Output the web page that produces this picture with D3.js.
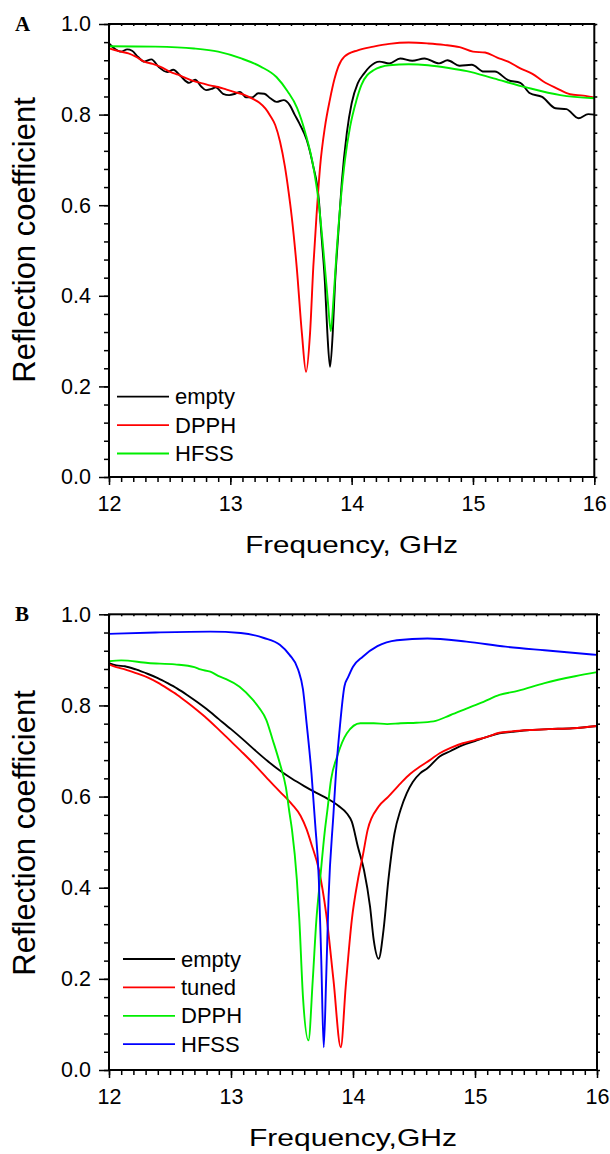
<!DOCTYPE html>
<html>
<head>
<meta charset="utf-8">
<script src="https://cdn.jsdelivr.net/npm/d3@7"></script>
<style>
  body { margin: 0; background: #fff; }
  svg { display: block; }
  text { font-family: "Liberation Sans", Arial, sans-serif; fill: #000; }
</style>
</head>
<body>
<svg id="chart"></svg>
<script>
// ---- data (frequency GHz, reflection coefficient) ----
const xTicks = [12, 13, 14, 15, 16]
const yTicks = [0, 0.2, 0.4, 0.6, 0.8, 1.0]

// panel A
const emptyA = [[12.00,0.957],[12.05,0.945],[12.10,0.939],[12.15,0.944],[12.19,0.941],[12.24,0.927],[12.29,0.917],[12.35,0.922],[12.41,0.905],[12.48,0.894],[12.53,0.899],[12.59,0.885],[12.66,0.870],[12.71,0.877],[12.76,0.862],[12.80,0.854],[12.85,0.857],[12.88,0.860],[12.94,0.846],[12.99,0.843],[13.04,0.846],[13.08,0.850],[13.13,0.838],[13.18,0.838],[13.23,0.847],[13.28,0.846],[13.33,0.836],[13.38,0.828],[13.44,0.832],[13.49,0.821],[13.53,0.800],[13.57,0.780],[13.63,0.744],[13.68,0.690],[13.73,0.611],[13.75,0.538],[13.78,0.428],[13.80,0.317],[13.822,0.243],[13.844,0.317],[13.863,0.428],[13.89,0.538],[13.918,0.648],[13.96,0.759],[14.00,0.825],[14.05,0.869],[14.10,0.890],[14.15,0.906],[14.23,0.917],[14.31,0.913],[14.40,0.924],[14.50,0.919],[14.60,0.924],[14.72,0.913],[14.79,0.920],[14.89,0.908],[14.99,0.910],[15.09,0.895],[15.18,0.895],[15.29,0.876],[15.39,0.870],[15.47,0.847],[15.57,0.839],[15.68,0.814],[15.77,0.812],[15.87,0.792],[15.95,0.801],[16.00,0.800]]
const dpphA = [[12.00,0.946],[12.08,0.940],[12.16,0.935],[12.22,0.928],[12.29,0.917],[12.36,0.912],[12.42,0.906],[12.51,0.894],[12.57,0.888],[12.64,0.880],[12.70,0.874],[12.77,0.869],[12.84,0.864],[12.90,0.861],[12.97,0.855],[13.03,0.850],[13.12,0.843],[13.19,0.834],[13.24,0.826],[13.29,0.813],[13.33,0.797],[13.37,0.777],[13.41,0.740],[13.45,0.685],[13.48,0.630],[13.506,0.575],[13.547,0.464],[13.59,0.317],[13.624,0.232],[13.657,0.317],[13.684,0.464],[13.71,0.575],[13.74,0.685],[13.78,0.773],[13.82,0.832],[13.86,0.880],[13.89,0.906],[13.94,0.928],[14.05,0.942],[14.18,0.950],[14.31,0.956],[14.47,0.959],[14.63,0.957],[14.76,0.954],[14.89,0.949],[15.00,0.939],[15.10,0.937],[15.20,0.926],[15.29,0.917],[15.39,0.902],[15.49,0.890],[15.58,0.873],[15.69,0.858],[15.80,0.845],[15.91,0.842],[16.00,0.838]]
const hfssA = [[12.00,0.951],[12.38,0.950],[12.70,0.946],[12.90,0.939],[13.09,0.924],[13.25,0.906],[13.38,0.883],[13.47,0.852],[13.55,0.815],[13.62,0.758],[13.684,0.685],[13.726,0.611],[13.767,0.501],[13.803,0.391],[13.828,0.322],[13.85,0.391],[13.877,0.501],[13.91,0.611],[13.945,0.700],[13.987,0.773],[14.04,0.832],[14.08,0.865],[14.18,0.898],[14.31,0.909],[14.47,0.911],[14.63,0.909],[14.80,0.903],[14.95,0.896],[15.17,0.880],[15.44,0.860],[15.72,0.843],[16.00,0.836]]

// panel B
const emptyB = [[12.00,0.893],[12.06,0.888],[12.13,0.886],[12.22,0.879],[12.32,0.869],[12.40,0.860],[12.48,0.849],[12.56,0.837],[12.64,0.823],[12.72,0.808],[12.80,0.792],[12.90,0.770],[13.00,0.748],[13.10,0.725],[13.20,0.701],[13.30,0.678],[13.40,0.657],[13.50,0.639],[13.60,0.623],[13.70,0.608],[13.80,0.594],[13.88,0.580],[13.95,0.563],[13.99,0.545],[14.04,0.490],[14.09,0.439],[14.14,0.358],[14.17,0.285],[14.21,0.244],[14.25,0.307],[14.29,0.417],[14.34,0.519],[14.39,0.571],[14.44,0.607],[14.49,0.632],[14.55,0.651],[14.61,0.662],[14.71,0.688],[14.80,0.700],[14.90,0.713],[15.00,0.722],[15.10,0.731],[15.20,0.739],[15.30,0.742],[15.45,0.746],[15.60,0.748],[15.80,0.750],[16.00,0.755]]
const tunedB = [[12.00,0.890],[12.06,0.884],[12.13,0.879],[12.22,0.871],[12.32,0.861],[12.40,0.850],[12.48,0.837],[12.56,0.823],[12.64,0.807],[12.72,0.790],[12.80,0.772],[12.90,0.747],[13.00,0.721],[13.10,0.695],[13.20,0.668],[13.30,0.639],[13.40,0.611],[13.50,0.583],[13.57,0.558],[13.62,0.528],[13.66,0.495],[13.72,0.440],[13.78,0.343],[13.84,0.197],[13.90,0.050],[13.94,0.182],[13.99,0.329],[14.04,0.417],[14.08,0.470],[14.12,0.527],[14.21,0.578],[14.29,0.600],[14.39,0.629],[14.47,0.650],[14.55,0.666],[14.63,0.680],[14.71,0.695],[14.80,0.707],[14.90,0.717],[15.00,0.724],[15.10,0.731],[15.20,0.740],[15.30,0.743],[15.45,0.746],[15.60,0.748],[15.80,0.750],[16.00,0.755]]
const dpphB = [[12.00,0.897],[12.10,0.899],[12.32,0.893],[12.54,0.890],[12.70,0.884],[12.75,0.879],[12.83,0.874],[12.91,0.863],[12.96,0.858],[13.07,0.841],[13.18,0.812],[13.23,0.795],[13.29,0.768],[13.34,0.726],[13.40,0.673],[13.45,0.620],[13.48,0.563],[13.50,0.527],[13.54,0.417],[13.56,0.330],[13.59,0.160],[13.635,0.065],[13.67,0.197],[13.70,0.330],[13.73,0.417],[13.77,0.527],[13.79,0.570],[13.82,0.637],[13.87,0.688],[13.95,0.739],[14.06,0.761],[14.17,0.761],[14.28,0.759],[14.39,0.761],[14.52,0.762],[14.66,0.765],[14.80,0.779],[14.93,0.793],[15.07,0.808],[15.20,0.823],[15.35,0.832],[15.57,0.849],[15.82,0.864],[16.00,0.873]]
const hfssB = [[12.00,0.957],[12.38,0.960],[12.83,0.962],[13.08,0.959],[13.27,0.948],[13.40,0.933],[13.48,0.911],[13.55,0.879],[13.59,0.835],[13.62,0.760],[13.66,0.650],[13.69,0.540],[13.72,0.417],[13.74,0.240],[13.76,0.050],[13.78,0.200],[13.80,0.380],[13.84,0.563],[13.86,0.650],[13.89,0.746],[13.93,0.842],[13.96,0.862],[14.00,0.885],[14.08,0.907],[14.20,0.930],[14.36,0.943],[14.61,0.947],[14.93,0.940],[15.25,0.929],[15.57,0.921],[16.00,0.911]]

const namesA = ["empty", "DPPH", "HFSS"]
const namesB = ["empty", "tuned", "DPPH", "HFSS"]

const svg = d3.select('#chart')
    .attr('width', 610)
    .attr('height', 1154)

const panels = [
    { letter: "A", left: 109, right: 594.3, top: 24, bottom: 477,
      series: [emptyA, dpphA, hfssA], names: namesA,
      colors: ["#000000", "#ff0000", "#00ee00"],
      xTitle: "Frequency, GHz", xTitleLen: 213, legendY: 396.7 },
    { letter: "B", left: 109, right: 597, top: 614.3, bottom: 1070,
      series: [emptyB, tunedB, dpphB, hfssB], names: namesB,
      colors: ["#000000", "#ff0000", "#00ee00", "#0000ff"],
      xTitle: "Frequency,GHz", xTitleLen: 208, legendY: 959 }
]

panels.forEach(p => {
    const g = svg.append("g")
    const x = d3.scaleLinear().domain([12, 16]).range([p.left, p.right])
    const y = d3.scaleLinear().domain([0, 1]).range([p.bottom, p.top])

    // curves
    const line = d3.line()
        .x(d => x(d[0]))
        .y(d => y(d[1]))
        .curve(d3.curveMonotoneX)

    p.series.forEach((s, i) => {
        g.append("path")
            .datum(s)
            .attr("d", line)
            .attr("fill", "none")
            .attr("stroke", p.colors[i])
            .attr("stroke-width", 1.9)
            .attr("stroke-linejoin", "round")
    })

    // minor ticks
    const xMinor = d3.range(12, 16.001, 0.1)
    const yMinor = d3.range(0, 1.001, 0.04)

    g.append("g")
        .attr("transform", `translate(0,${p.bottom})`)
        .call(d3.axisBottom(x).tickValues(xMinor).tickSize(5).tickFormat(""))
        .call(a => a.select(".domain").remove())
    g.append("g")
        .attr("transform", `translate(${p.left},0)`)
        .call(d3.axisLeft(y).tickValues(yMinor).tickSize(5).tickFormat(""))
        .call(a => a.select(".domain").remove())
    // mirrored ticks on right / top
    g.append("g")
        .attr("transform", `translate(${p.right},0)`)
        .call(d3.axisRight(y).tickValues(yMinor).tickSize(3).tickFormat(""))
        .call(a => a.select(".domain").remove())
    g.append("g")
        .attr("transform", `translate(0,${p.top})`)
        .call(d3.axisBottom(x).tickValues(xMinor).tickSize(2).tickFormat(""))
        .call(a => a.select(".domain").remove())

    // major ticks + labels
    const xAxis = g.append("g")
        .attr("transform", `translate(0,${p.bottom})`)
        .call(d3.axisBottom(x).tickValues(xTicks).tickSize(8).tickPadding(11).tickFormat(d3.format("d")))
    xAxis.select(".domain").remove()

    const yAxis = g.append("g")
        .attr("transform", `translate(${p.left},0)`)
        .call(d3.axisLeft(y).tickValues(yTicks).tickSize(10).tickPadding(8).tickFormat(d3.format(".1f")))
    yAxis.select(".domain").remove()

    g.selectAll(".tick line").attr("stroke", "#000").attr("stroke-width", 1.5)
    g.selectAll(".tick text")
        .style("font-family", '"Liberation Sans", Arial, sans-serif')
        .style("font-size", "21.5px")
        .attr("fill", "#000")

    // frame
    g.append("rect")
        .attr("x", p.left)
        .attr("y", p.top)
        .attr("width", p.right - p.left)
        .attr("height", p.bottom - p.top)
        .attr("fill", "none")
        .attr("stroke", "#000")
        .attr("stroke-width", 2)

    // axis titles
    g.append("text")
        .attr("x", (p.left + p.right) / 2 - p.xTitleLen / 2)
        .attr("y", p.bottom + 76)
        .attr("textLength", p.xTitleLen)
        .attr("lengthAdjust", "spacingAndGlyphs")
        .style("font-size", "24px")
        .text(p.xTitle)

    g.append("text")
        .attr("transform", `translate(35,${p.bottom - 237}) rotate(-90)`)
        .attr("text-anchor", "middle")
        .style("font-size", "31px")
        .text("Reflection coefficient")

    // panel letter
    g.append("text")
        .attr("x", 15)
        .attr("y", p.top + 6.5)
        .style("font-family", '"Liberation Serif", "Times New Roman", serif')
        .style("font-weight", "bold")
        .style("font-size", "21px")
        .text(p.letter)

    // legend
    p.names.forEach((n, i) => {
        const ly = p.legendY + i * 28.4
        const lx = p.left + 8 + (p.letter === "B" ? 6 : 0)
        g.append("line")
            .attr("x1", lx).attr("x2", lx + 52)
            .attr("y1", ly).attr("y2", ly)
            .attr("stroke", p.colors[i])
            .attr("stroke-width", 1.8)
        g.append("text")
            .attr("x", lx + 58)
            .attr("y", ly + 7.5)
            .style("font-size", "22px")
            .text(n)
    })
})
</script>
</body>
</html>
